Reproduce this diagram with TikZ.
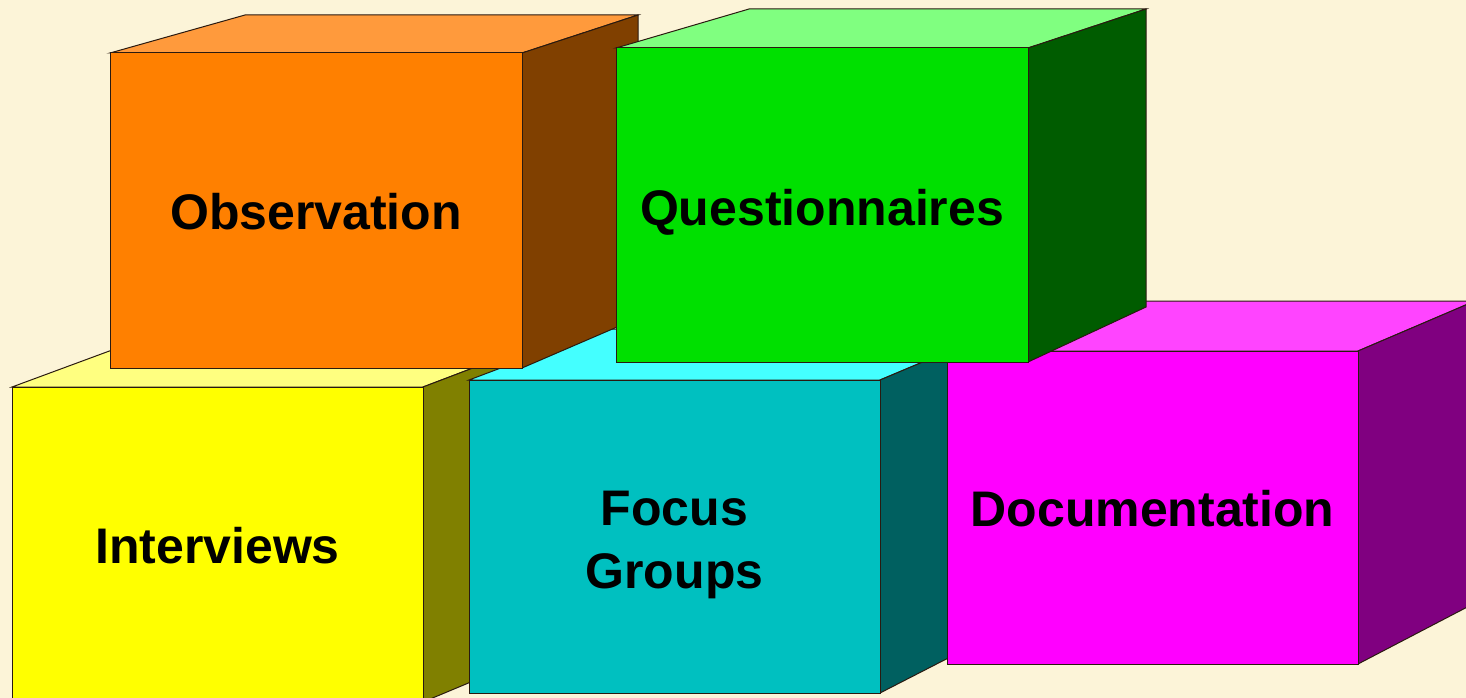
\documentclass[tikz,border=0pt]{standalone}
\usepackage{fontspec}
\setmainfont{Liberation Sans}
\usetikzlibrary{fit}
\definecolor{bg}{HTML}{FCF4D8}
\definecolor{edge}{HTML}{2A1A10}
\definecolor{yelF}{HTML}{FFFF00}\definecolor{yelT}{HTML}{FFFF80}\definecolor{yelS}{HTML}{808000}
\definecolor{oraF}{HTML}{FF8000}\definecolor{oraT}{HTML}{FF9A3C}\definecolor{oraS}{HTML}{804000}
\definecolor{griF}{HTML}{00E000}\definecolor{griT}{HTML}{80FF80}\definecolor{griS}{HTML}{005C00}
\definecolor{cyaF}{HTML}{00C0C0}\definecolor{cyaT}{HTML}{44FFFF}\definecolor{cyaS}{HTML}{006060}
\definecolor{magF}{HTML}{FF00FF}\definecolor{magT}{HTML}{FF44FF}\definecolor{magS}{HTML}{800080}
\tikzset{
  face/.style={draw=edge, line width=1pt, line join=miter},
  frontface/.style={face, inner sep=0pt, outer sep=0pt},
  boxlabel/.style={font=\bfseries\fontsize{50}{63}\selectfont, align=center, text=black, yshift=-1pt}
}
% #1 name, #2 front top-left, #3 front bottom-right, #4 back top-left, #5 back bottom-right, #6 colour prefix, #7 label options, #8 text
\newcommand\drawbox[8]{%
  \coordinate (#1-a) at (#2);
  \coordinate (#1-c) at (#3);
  \coordinate (#1-e) at (#4);
  \coordinate (#1-g) at (#5);
  \filldraw[face, fill=#6T] (#1-a) -- (#1-a -| #1-c) -- (#1-e -| #1-g) -- (#1-e) -- cycle;
  \filldraw[face, fill=#6S] (#1-a -| #1-c) -- (#1-e -| #1-g) -- (#1-g) -- (#1-c) -- cycle;
  \node[frontface, fill=#6F, fit=(#1-a)(#1-c)] (#1) {};
  \node[boxlabel, #7] (#1-label) at (#1.center) {#8};
}
\begin{document}
\begin{tikzpicture}[x=1pt, y=-1pt]
  \useasboundingbox (0,0) rectangle (1466,698);
  \fill[bg] (0,0) rectangle (1466,698);
  \clip (0,0) rectangle (1466,698);
  \drawbox{interviews}{12,387}{423,702}{150,336}{557,646}{yel}{yshift=0pt}{Interviews}
  \drawbox{focus}{469,380}{880,693}{604,329}{1001,631}{cya}{yshift=-7pt}{Focus\\Groups}
  \drawbox{documentation}{947,351}{1358,664}{1082,301}{1475,603}{mag}{}{Documentation}
  \drawbox{observation}{110,53}{522,368}{245,15}{638,318}{ora}{}{Observation}
  \drawbox{questionnaires}{616,48}{1028,362}{749,9}{1146,307}{gri}{yshift=-6pt}{Questionnaires}
\end{tikzpicture}
\end{document}
